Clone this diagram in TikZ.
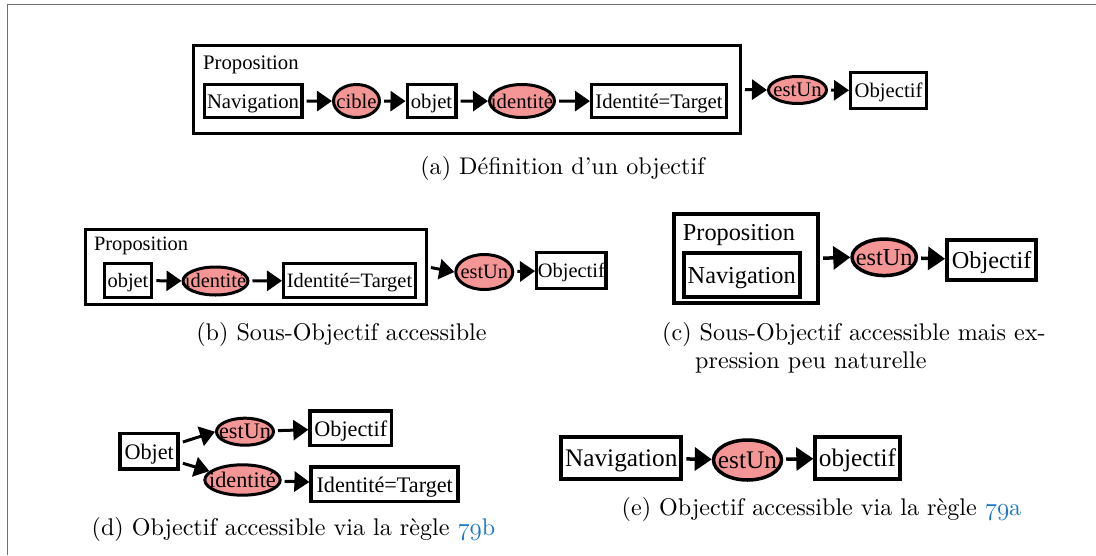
\documentclass[tikz,border=0pt]{standalone}
\usepackage{fontspec}
\usetikzlibrary{shapes.geometric,arrows.meta}
\newfontfamily\dfont{Liberation Serif}
\newfontfamily\capf{lmroman10-regular.otf}
\definecolor{relfill}{RGB}{244,150,150}
\definecolor{citeblue}{RGB}{25,118,200}
\definecolor{framegray}{RGB}{112,112,112}
\newcommand\bt[1]{\makebox[0pt]{\raisebox{-0.36em}[0pt][0pt]{#1}}}
\newcommand\capfont{\capf\fontsize{24.1}{29}\selectfont}
\tikzset{
  box/.style={draw, rectangle, line width=3.3pt, fill=white, inner sep=0pt},
  rel/.style={draw, ellipse, line width=3pt, fill=relfill, inner sep=0pt},
  ltext/.style={label={[inner sep=0pt]center:#1}},
  outerbox/.style={draw, rectangle, line width=3.3pt, inner sep=0pt},
  arr/.style={line width=3pt, -{Triangle[length=15pt,width=20pt]}, shorten <=3pt},
  bigarr/.style={line width=3.5pt, -{Triangle[length=17pt,width=23pt]}, shorten <=3pt},
  lbl/.style={anchor=base west, inner sep=0pt},
  captxt/.style={anchor=base, inner sep=0pt, font=\capfont},
  captxtl/.style={anchor=base west, inner sep=0pt, font=\capfont},
}
\begin{document}
\begin{tikzpicture}[x=1pt,y=-1pt]
\useasboundingbox (0,0) rectangle (1096,555);
% frame
\draw[framegray, line width=1.5pt] (7.5,555) -- (7.5,4.5) -- (1096,4.5);

% ---------- (a)
\begin{scope}[font=\dfont\fontsize{20.7}{24}\selectfont]
\node[outerbox, minimum width=546.7pt, minimum height=87.7pt] (propA) at (467,89.5) {};
\node[lbl] (lblA) at (203,69) {Proposition};
\node[box, minimum width=97.7pt, minimum height=33.2pt] (navA) at (253,101.2) {\bt{Navigation}};
\node[rel, minimum width=46pt, minimum height=33pt, ltext=cible] (cibleA) at (356.5,101) {};
\node[box, minimum width=48.7pt, minimum height=33.2pt] (objA) at (431.5,101.2) {\bt{objet}};
\node[rel, minimum width=65pt, minimum height=33pt, ltext=identité] (idA) at (522,101) {};
\node[box, minimum width=134.7pt, minimum height=33.2pt] (tgtA) at (659,101.2) {\bt{Identité=Target}};
\node[rel, minimum width=58pt, minimum height=27pt, ltext=estUn] (estA) at (797.5,90) {};
\node[box, minimum width=75.7pt, minimum height=35.7pt] (objfA) at (888.5,90.5) {\bt{Objectif}};
\draw[arr] (navA) -- (cibleA);
\draw[arr] (cibleA) -- (objA);
\draw[arr] (objA) -- (idA);
\draw[arr] (idA) -- (tgtA);
\draw[arr] (propA.east) -- (estA.west);
\draw[arr] (estA) -- (objfA);
\end{scope}
\node[captxt] (capA) at (562.5,174) {(a) Définition d’un objectif};

% ---------- (b)
\begin{scope}[font=\dfont\fontsize{20.4}{24}\selectfont]
\node[outerbox, minimum width=340.7pt, minimum height=74.7pt] (propB) at (256,267) {};
\node[lbl] (lblB) at (93.8,250.8) {Proposition};
\node[box, minimum width=47.6pt, minimum height=33.7pt] (objB) at (128,280.6) {\bt{objet}};
\node[rel, minimum width=65pt, minimum height=28pt, ltext=identité] (idB) at (215.5,281) {};
\node[box, minimum width=131.7pt, minimum height=33.7pt] (tgtB) at (349.5,280.5) {\bt{Identité=Target}};
\node[rel, minimum width=57pt, minimum height=35pt, ltext=estUn] (estB) at (484.3,272) {};
\node[box, minimum width=69.4pt, minimum height=36pt] (objfB) at (571.4,270.5) {\bt{Objectif}};
\draw[arr] (objB) -- (idB);
\draw[arr] (idB) -- (tgtB);
\draw[arr] (propB.east) -- (estB.west);
\draw[arr] (estB) -- (objfB);
\end{scope}
\node[captxt] (capB) at (341.5,340) {(b) Sous-Objectif accessible};

% ---------- (c)
\begin{scope}[font=\dfont\fontsize{24.3}{28}\selectfont,
  box/.append style={line width=4pt}, outerbox/.append style={line width=4pt},
  rel/.append style={line width=3.5pt}]
\node[outerbox, minimum width=144.3pt, minimum height=89.3pt] (propC) at (745.9,258.3) {};
\node[lbl] (lblC) at (682.7,240) {Proposition};
\node[box, minimum width=116pt, minimum height=44.6pt] (navC) at (741.7,275) {\bt{Navigation}};
\node[rel, minimum width=64.3pt, minimum height=36.5pt, ltext=estUn] (estC) at (884.2,257.3) {};
\node[box, minimum width=89.3pt, minimum height=39.4pt] (objfC) at (991.7,260) {\bt{Objectif}};
\draw[bigarr] (propC.east) -- (estC.west);
\draw[bigarr] (estC) -- (objfC);
\end{scope}
\node[captxtl] (capC1) at (662,340) {(c) Sous-Objectif accessible mais ex-};
\node[captxtl] (capC2) at (695,368) {pression peu naturelle};

% ---------- (d)
\begin{scope}[font=\dfont\fontsize{22.2}{26}\selectfont,
  box/.append style={line width=3.6pt}]
\node[box, minimum width=58pt, minimum height=35.4pt] (objD) at (149.2,451.2) {\bt{Objet}};
\node[rel, minimum width=57pt, minimum height=27pt, ltext=estUn] (estD) at (245,431.7) {};
\node[box, minimum width=81.4pt, minimum height=34.4pt] (objfD) at (350.8,428.3) {\bt{Objectif}};
\node[rel, minimum width=75.4pt, minimum height=30.4pt, ltext=identité] (idD) at (242.5,480) {};
\node[box, minimum width=147pt, minimum height=34.7pt] (tgtD) at (384.7,484.2) {\bt{Identité=Target}};
\draw[arr] (objD.15) -- (estD.west);
\draw[arr] (objD.340) -- (idD.165);
\draw[arr] (estD) -- (objfD);
\draw[arr] (idD) -- (tgtD);
\end{scope}
\node[captxt] (capD) at (293.5,535) {(d) Objectif accessible via la règle \textcolor{citeblue}{$\mathnormal{79}$b}};

% ---------- (e)
\begin{scope}[font=\dfont\fontsize{25.3}{30}\selectfont,
  box/.append style={line width=4pt},
  rel/.append style={line width=3.5pt}]
\node[box, minimum width=120pt, minimum height=41.7pt] (navE) at (621.3,457.8) {\bt{Navigation}};
\node[rel, minimum width=68pt, minimum height=40pt, ltext=estUn] (estE) at (747.5,460) {};
\node[box, minimum width=84.4pt, minimum height=41.7pt] (objfE) at (857.5,457.8) {\bt{objectif}};
\draw[bigarr] (navE) -- (estE);
\draw[bigarr] (estE) -- (objfE);
\end{scope}
\node[captxt] (capE) at (821.5,515) {(e) Objectif accessible via la règle \textcolor{citeblue}{$\mathnormal{79}$a}};
\end{tikzpicture}
\end{document}
